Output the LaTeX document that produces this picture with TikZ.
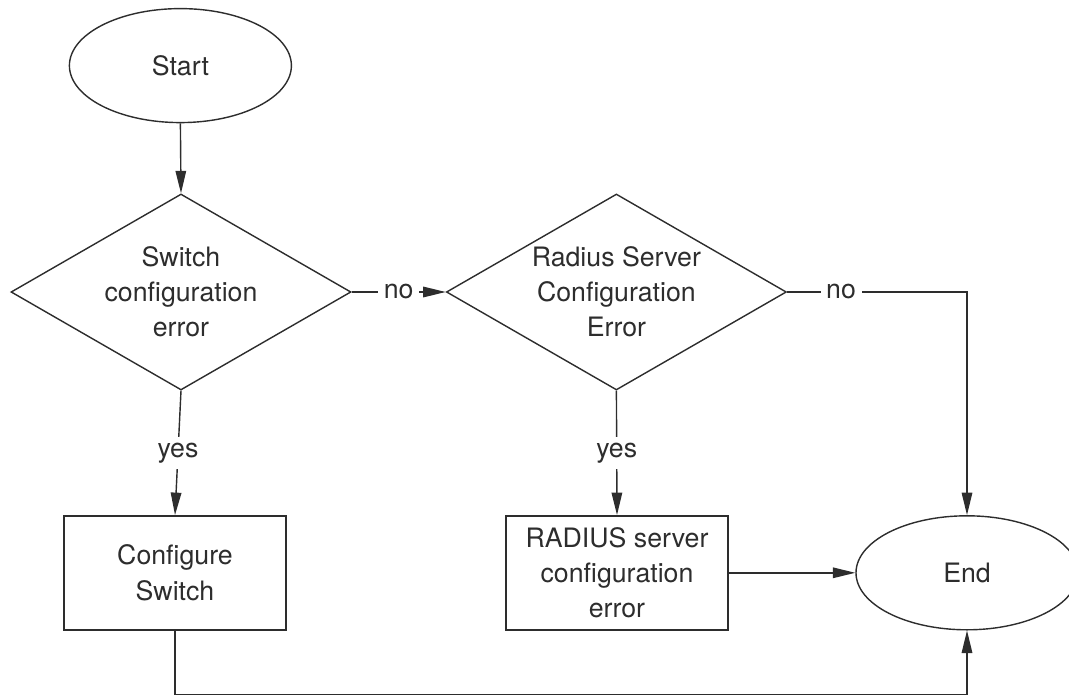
\documentclass[tikz,border=0pt]{standalone}
\usepackage{xcolor}
\usepackage{fontspec}
\setmainfont{TeX Gyre Heros}
\usepackage{tikz}
\usetikzlibrary{shapes.geometric, arrows.meta, positioning}
\definecolor{ink}{RGB}{45,45,45}

\begin{document}
\begin{tikzpicture}[
  font=\fontsize{19}{25}\selectfont,
  terminal/.style={draw=ink, ellipse, minimum width=5.55cm, minimum height=2.85cm,
                   inner sep=0pt, line width=1pt, text=ink},
  decision/.style={draw=ink, diamond, aspect=1.75, minimum width=8.5cm,
                   minimum height=4.9cm, inner sep=0pt, align=center,
                   line width=1pt, text=ink},
  box/.style={draw=ink, rectangle, minimum width=5.55cm, minimum height=2.85cm,
              align=center, line width=1pt, text=ink},
  arrow/.style={-{Triangle[length=16pt, width=7.5pt]}, line width=1pt, color=ink},
  lbl/.style={fill=white, text=ink, inner sep=4pt}
]
\useasboundingbox (0,0) rectangle (26.725,17.45);

\node[terminal] (start)     at (4.51,15.81)  {Start};
\node[decision] (switchq)   at (4.525,10.15) {Switch\\configuration\\error};
\node[decision] (radiusq)   at (15.41,10.15) {Radius Server\\Configuration\\Error};
\node[box]      (confsw)    at (4.375,3.13)  {Configure\\Switch};
\node[box]      (radiuscfg) at (15.425,3.13) {RADIUS server\\configuration\\error};
\node[terminal] (finish)    at (24.175,3.13) {End};

\draw[arrow] (start.south) -- (switchq.north);
\draw[arrow] (switchq.east) -- node[lbl] {no} (radiusq.west);
\draw[arrow] (radiusq.east) -- node[lbl, pos=0.3] {no} (radiusq.east -| finish.north)
             -- (finish.north);
\draw[arrow] (switchq.south) -- node[lbl] {yes} (confsw.north);
\draw[arrow] (radiusq.south) -- node[lbl] {yes} (radiuscfg.north);
\draw[arrow] (radiuscfg.east) -- (finish.west);
\draw[arrow] (confsw.south) -- ++(0,-1.6) -| (finish.south);
\end{tikzpicture}
\end{document}
